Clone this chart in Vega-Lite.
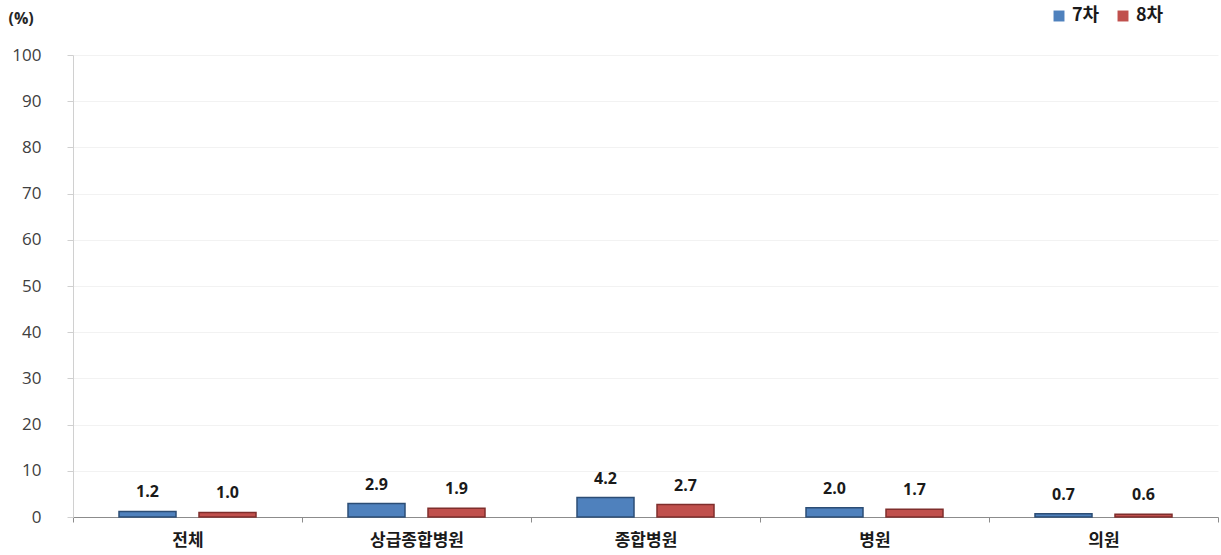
{
  "$schema": "https://vega.github.io/schema/vega-lite/v6.json",
  "width": 1145,
  "height": 462,
  "autosize": {"type": "none"},
  "padding": {"left": 73, "top": 55, "right": 3, "bottom": 38},
  "background": "white",
  "config": {
    "font": "Noto Sans CJK KR",
    "view": {"stroke": null}
  },
  "data": {
    "values": [
      {"group": "전체", "series": "7차", "value": 1.2},
      {"group": "전체", "series": "8차", "value": 1.0},
      {"group": "상급종합병원", "series": "7차", "value": 2.9},
      {"group": "상급종합병원", "series": "8차", "value": 1.9},
      {"group": "종합병원", "series": "7차", "value": 4.2},
      {"group": "종합병원", "series": "8차", "value": 2.7},
      {"group": "병원", "series": "7차", "value": 2.0},
      {"group": "병원", "series": "8차", "value": 1.7},
      {"group": "의원", "series": "7차", "value": 0.7},
      {"group": "의원", "series": "8차", "value": 0.6}
    ]
  },
  "encoding": {
    "x": {
      "field": "group",
      "type": "nominal",
      "sort": null,
      "scale": {"paddingInner": 0, "paddingOuter": 0},
      "axis": {
        "title": null,
        "labelAngle": 0,
        "labelFontSize": 17,
        "labelFontWeight": "bold",
        "labelColor": "#1a1a1a",
        "labelPadding": 10,
        "tickBand": "extent",
        "tickSize": 5,
        "tickColor": "#8c8c8c",
        "domainColor": "#8c8c8c",
        "grid": false
      }
    },
    "xOffset": {
      "field": "series",
      "type": "nominal",
      "scale": {"paddingInner": 0.2875, "paddingOuter": 0.575}
    },
    "y": {
      "field": "value",
      "type": "quantitative",
      "scale": {"domain": [0, 100]},
      "axis": {
        "title": "(%)",
        "titleAngle": 0,
        "titleX": -65,
        "titleY": -37,
        "titleAlign": "left",
        "titleBaseline": "middle",
        "titleFontSize": 16,
        "titleFontWeight": "bold",
        "titleColor": "#262626",
        "titleFont": "Open Sans",
        "values": [0, 10, 20, 30, 40, 50, 60, 70, 80, 90, 100],
        "labelFont": "Open Sans",
        "labelFontSize": 17,
        "labelColor": "#404040",
        "labelPadding": 26,
        "tickSize": 6,
        "tickColor": "#d0d0d0",
        "domainColor": "#d0d0d0",
        "gridColor": "#f2f2f2",
        "grid": true
      }
    }
  },
  "layer": [
    {
      "mark": {"type": "bar", "strokeWidth": 1.5},
      "encoding": {
        "color": {
          "field": "series",
          "type": "nominal",
          "scale": {"domain": ["7차", "8차"], "range": ["#4F81BD", "#C0504D"]},
          "legend": {
            "title": null,
            "orient": "none",
            "legendX": 977,
            "legendY": -48,
            "direction": "horizontal",
            "symbolType": "square",
            "symbolSize": 120,
            "symbolStrokeWidth": 0,
            "labelFontSize": 18,
            "labelFontWeight": "bold",
            "labelColor": "#1a1a1a",
            "columnPadding": 14,
            "labelOffset": 4
          }
        },
        "stroke": {
          "field": "series",
          "type": "nominal",
          "scale": {"domain": ["7차", "8차"], "range": ["#2C4D75", "#7F2E2C"]},
          "legend": null
        }
      }
    },
    {
      "mark": {"type": "text", "baseline": "bottom", "dy": -11, "font": "Open Sans", "fontSize": 16, "fontWeight": "bold", "color": "#1a1a1a"},
      "encoding": {
        "text": {"field": "value", "type": "quantitative", "format": ".1f"}
      }
    }
  ]
}
